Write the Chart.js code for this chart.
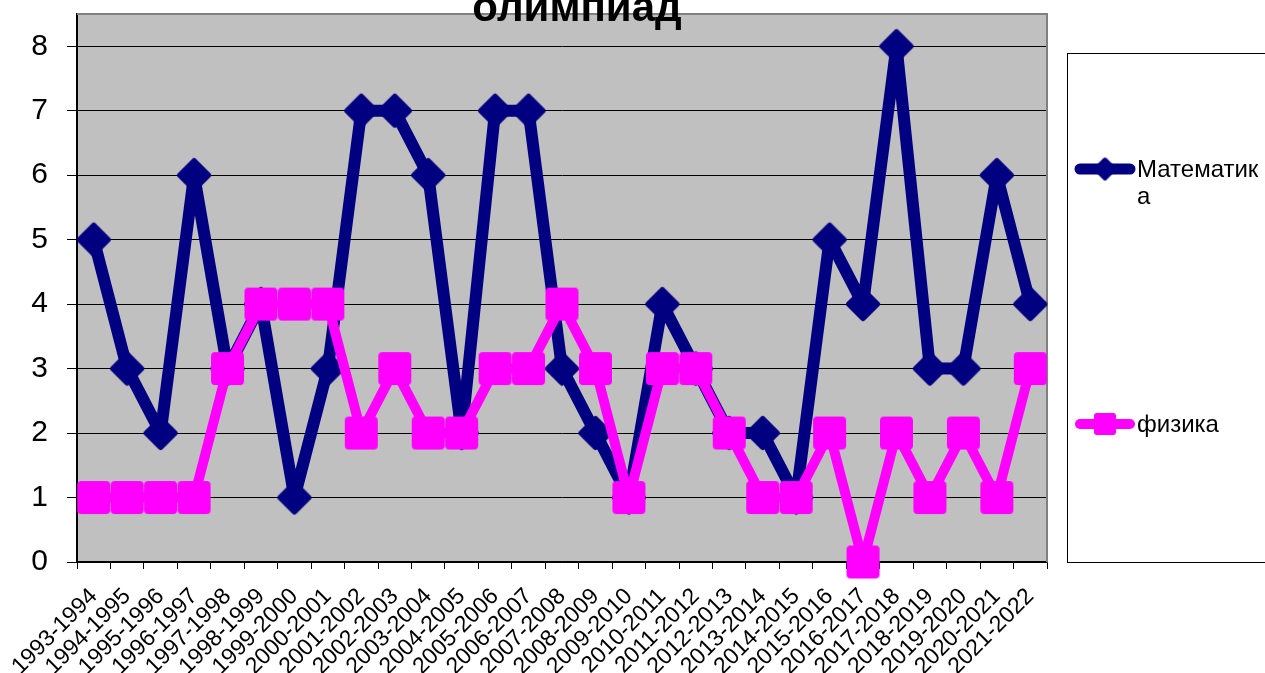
<!DOCTYPE html>
<html>
<head>
<meta charset="utf-8">
<script src="https://cdn.jsdelivr.net/npm/chart.js@4.4.0/dist/chart.umd.min.js"></script>
<style>
    html, body { margin: 0; padding: 0; background: #fff; }
    #wrap { width: 1265px; height: 673px; position: relative; overflow: hidden; }
</style>
</head>
<body>
<div id="wrap"><canvas id="olympChart" width="1265" height="673"></canvas></div>
<script>
// Chart data
const years = ['1993-1994', '1994-1995', '1995-1996', '1996-1997', '1997-1998', '1998-1999',
    '1999-2000', '2000-2001', '2001-2002', '2002-2003', '2003-2004', '2004-2005', '2005-2006',
    '2006-2007', '2007-2008', '2008-2009', '2009-2010', '2010-2011', '2011-2012', '2012-2013',
    '2013-2014', '2014-2015', '2015-2016', '2016-2017', '2017-2018', '2018-2019', '2019-2020',
    '2020-2021', '2021-2022'];
const mathValues = [5, 3, 2, 6, 3, 4, 1, 3, 7, 7, 6, 2, 7, 7, 3, 2, 1, 4, 3, 2, 2, 1, 5, 4, 8, 3, 3, 6, 4];
const physValues = [1, 1, 1, 1, 3, 4, 4, 4, 2, 3, 2, 2, 3, 3, 4, 3, 1, 3, 3, 2, 1, 1, 2, 0, 2, 1, 2, 1, 3];
const yTicks = [0, 1, 2, 3, 4, 5, 6, 7, 8];
const seriesNames = ['Математика', 'физика'];
const titleText = 'олимпиад';

const FONT = "'Liberation Sans', Arial, sans-serif";
const NAVY = '#000080';
const MAGENTA = '#ff00ff';

// Marker images (rounded diamond / rounded square like in Excel)
function makeMarker(shape, color, half, stroke) {
    const size = Math.ceil((half + stroke) * 2) + 2;
    const c = document.createElement('canvas');
    c.width = size;
    c.height = size;
    const g = c.getContext('2d');
    const m = size / 2;
    g.fillStyle = color;
    g.strokeStyle = color;
    g.lineWidth = stroke;
    g.lineJoin = 'round';
    g.beginPath();
    if (shape === 'diamond') {
        g.moveTo(m, m - half);
        g.lineTo(m + half, m);
        g.lineTo(m, m + half);
        g.lineTo(m - half, m);
    } else {
        g.rect(m - half, m - half, half * 2, half * 2);
    }
    g.closePath();
    g.fill();
    g.stroke();
    return c;
}

const diamondMarker = makeMarker('diamond', NAVY, 14, 6);
const squareMarker = makeMarker('square', MAGENTA, 12.5, 8);
const diamondSmall = makeMarker('diamond', NAVY, 9.5, 4);
const squareSmall = makeMarker('square', MAGENTA, 8, 6);

// Split a legend label into lines that fit the legend box
function wrapLabel(ctx, text, maxWidth) {
    const lines = [];
    let cur = '';
    for (const ch of text) {
        if (ctx.measureText(cur + ch).width > maxWidth && cur) {
            lines.push(cur);
            cur = ch;
        } else {
            cur += ch;
        }
    }
    if (cur) lines.push(cur);
    return lines;
}

const excelLook = {
    id: 'excelLook',
    beforeDraw(chart) {
        const { ctx, chartArea: a } = chart;
        ctx.save();
        ctx.fillStyle = '#c0c0c0';
        ctx.fillRect(a.left, a.top, a.right - a.left, a.bottom - a.top);
        ctx.restore();
    },
    beforeDatasetsDraw(chart) {
        // gray frame on top and right of the plot area
        const { ctx, chartArea: a } = chart;
        ctx.save();
        ctx.strokeStyle = '#808080';
        ctx.lineWidth = 2;
        ctx.beginPath();
        ctx.moveTo(a.left, a.top);
        ctx.lineTo(a.right, a.top);
        ctx.lineTo(a.right, a.bottom);
        ctx.stroke();
        ctx.restore();
    },
    afterDraw(chart) {
        const ctx = chart.ctx;
        ctx.save();

        // Title (top of it runs off the picture)
        ctx.fillStyle = '#000';
        ctx.font = 'bold 42px ' + FONT;
        ctx.textAlign = 'center';
        ctx.textBaseline = 'alphabetic';
        ctx.fillText(titleText, 577, 21);

        // Legend box
        ctx.strokeStyle = '#000';
        ctx.lineWidth = 1;
        ctx.fillStyle = '#fff';
        ctx.fillRect(1067.5, 53.5, 220, 509);
        ctx.strokeRect(1067.5, 53.5, 220, 509);

        const entries = [
            { name: seriesNames[0], color: NAVY, width: 11, marker: diamondSmall, y: 169 },
            { name: seriesNames[1], color: MAGENTA, width: 10, marker: squareSmall, y: 424 }
        ];
        ctx.font = '24px ' + FONT;
        ctx.textAlign = 'left';
        ctx.textBaseline = 'middle';
        entries.forEach(e => {
            ctx.strokeStyle = e.color;
            ctx.lineWidth = e.width;
            ctx.lineCap = 'round';
            ctx.beginPath();
            ctx.moveTo(1080, e.y);
            ctx.lineTo(1130, e.y);
            ctx.stroke();
            ctx.drawImage(e.marker, 1105 - e.marker.width / 2, e.y - e.marker.height / 2);

            ctx.fillStyle = '#000';
            const lines = wrapLabel(ctx, e.name, 126);
            lines.forEach((line, i) => {
                ctx.fillText(line, 1137, e.y + 1 + i * 27);
            });
        });
        ctx.restore();
    }
};

const ctx = document.getElementById('olympChart').getContext('2d');
const olympChart = new Chart(ctx, {
    type: 'line',
    data: {
        labels: years,
        datasets: [
            {
                label: seriesNames[0],
                data: mathValues,
                borderColor: NAVY,
                backgroundColor: NAVY,
                borderWidth: 12,
                borderJoinStyle: 'round',
                pointStyle: diamondMarker,
                tension: 0,
                clip: false,
                order: 2
            },
            {
                label: seriesNames[1],
                data: physValues,
                borderColor: MAGENTA,
                backgroundColor: MAGENTA,
                borderWidth: 10,
                borderJoinStyle: 'round',
                pointStyle: squareMarker,
                tension: 0,
                clip: false,
                order: 1
            }
        ]
    },
    options: {
        responsive: false,
        animation: false,
        devicePixelRatio: 1,
        events: [],
        layout: {
            autoPadding: false,
            padding: { top: 14, right: 218, left: 0, bottom: 0 }
        },
        plugins: {
            legend: { display: false },
            title: { display: false },
            tooltip: { enabled: false }
        },
        scales: {
            x: {
                offset: true,
                grid: {
                    offset: true,
                    drawOnChartArea: false,
                    tickLength: 7,
                    color: '#000'
                },
                border: { color: '#000', width: 1.5 },
                ticks: {
                    autoSkip: false,
                    minRotation: 45,
                    maxRotation: 45,
                    padding: 14,
                    color: '#000',
                    font: { size: 23, family: FONT }
                },
                afterFit: scale => {
                    scale.height = 111;
                    scale.paddingLeft = 0;
                    scale.paddingRight = 0;
                }
            },
            y: {
                min: 0,
                max: 8.5,
                afterBuildTicks: scale => { scale.ticks = yTicks.map(v => ({ value: v })); },
                afterFit: scale => {
                    scale.width = 77;
                    scale.paddingTop = 0;
                    scale.paddingBottom = 0;
                },
                grid: { color: '#000', lineWidth: 1, tickLength: 10 },
                border: { color: '#000', width: 2 },
                ticks: {
                    padding: 19,
                    color: '#000',
                    font: { size: 30, family: FONT }
                }
            }
        }
    },
    plugins: [excelLook]
});
</script>
</body>
</html>
